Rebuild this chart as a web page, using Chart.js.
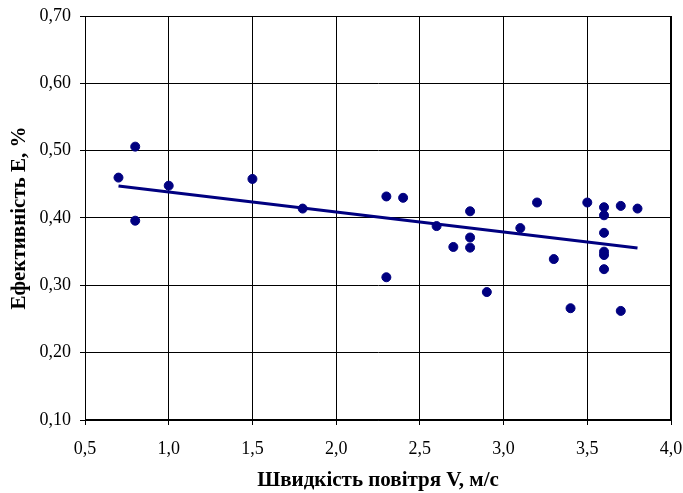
<!DOCTYPE html>
<html>
<head>
<meta charset="utf-8">
<script src="https://cdn.jsdelivr.net/npm/chart.js@4/dist/chart.umd.min.js"></script>
<style>
html,body{margin:0;padding:0;background:#fff;}
#wrap{width:683px;height:493px;}
</style>
</head>
<body>
<div id="wrap"><canvas id="c" width="683" height="493"></canvas></div>
<script>
// Measured points: air speed V (m/s) and efficiency E
const speedV = [0.7, 0.8, 0.8, 1.0, 1.5, 1.8, 2.3, 2.3, 2.4, 2.6, 2.7, 2.8, 2.8, 2.8, 2.9, 3.1, 3.2, 3.3, 3.4, 3.5, 3.6, 3.6, 3.6, 3.6, 3.6, 3.6, 3.7, 3.7, 3.8];
const efficiencyE = [0.460, 0.506, 0.396, 0.448, 0.458, 0.414, 0.432, 0.312, 0.430, 0.388, 0.357, 0.410, 0.371, 0.356, 0.290, 0.385, 0.423, 0.339, 0.266, 0.423, 0.416, 0.404, 0.378, 0.350, 0.345, 0.324, 0.418, 0.262, 0.414];
// Linear trend line endpoints
const trendV = [0.7, 3.8];
const trendE = [0.4475, 0.3555];
const xTicks = [0.5, 1.0, 1.5, 2.0, 2.5, 3.0, 3.5, 4.0];
const yTicks = [0.1, 0.2, 0.3, 0.4, 0.5, 0.6, 0.7];
const xTitle = 'Швидкість повітря V, м/с';
const yTitle = 'Ефективність E, %';

const navy = '#000080';
const serif = '"Liberation Serif", "Times New Roman", serif';
const pts = speedV.map((v, i) => ({x: v, y: efficiencyE[i]}));
const trend = trendV.map((v, i) => ({x: v, y: trendE[i]}));

const PAD_L = 7, PAD_B = 0;

new Chart(document.getElementById('c'), {
  type: 'scatter',
  data: {
    datasets: [
      {data: pts, backgroundColor: navy, borderColor: navy, pointRadius: 4.5, pointHoverRadius: 4.5, order: 2},
      {type: 'line', data: trend, showLine: true, borderColor: navy, borderWidth: 3, pointRadius: 0, fill: false, order: 1}
    ]
  },
  options: {
    responsive: false,
    animation: false,
    events: [],
    layout: {padding: {left: PAD_L, right: 12, top: 16, bottom: PAD_B}},
    plugins: {legend: {display: false}, tooltip: {enabled: false}},
    scales: {
      x: {
        type: 'linear', min: xTicks[0], max: xTicks[xTicks.length - 1],
        afterBuildTicks: s => { s.ticks = xTicks.map(v => ({value: v})); },
        afterFit: s => { s.height = 493 - PAD_B - 420; s.paddingLeft = 0; s.paddingRight = 0; },
        ticks: {color: '#000', padding: 13,
          font: {family: serif, size: 18},
          callback: v => v.toFixed(1).replace('.', ',')},
        grid: {color: '#000', lineWidth: 1, tickLength: 5, drawTicks: true},
        border: {color: '#000', width: 1},
        title: {display: true, text: xTitle, color: '#000', padding: {top: 0, bottom: 0},
          font: {family: serif, size: 21, weight: 'bold'}}
      },
      y: {
        type: 'linear', min: yTicks[0], max: yTicks[yTicks.length - 1],
        afterBuildTicks: s => { s.ticks = yTicks.map(v => ({value: v})); },
        afterFit: s => { s.width = 85 - PAD_L; s.paddingTop = 0; s.paddingBottom = 0; },
        ticks: {color: '#000', padding: 9,
          font: {family: serif, size: 18},
          callback: v => v.toFixed(2).replace('.', ',')},
        grid: {color: '#000', lineWidth: 1, tickLength: 5, drawTicks: true},
        border: {color: '#000', width: 1},
        title: {display: true, text: yTitle, color: '#000', padding: {top: 0, bottom: 4},
          font: {family: serif, size: 21, weight: 'bold'}}
      }
    }
  },
  plugins: [{
    id: 'frame',
    afterDraw(chart) {
      const {ctx, chartArea: a} = chart;
      ctx.save();
      ctx.strokeStyle = '#000';
      ctx.lineWidth = 1;
      ctx.strokeRect(a.left + 0.5, a.top + 0.5, a.right - a.left - 1, a.bottom - a.top - 1);
      ctx.restore();
    }
  }]
});
</script>
</body>
</html>
